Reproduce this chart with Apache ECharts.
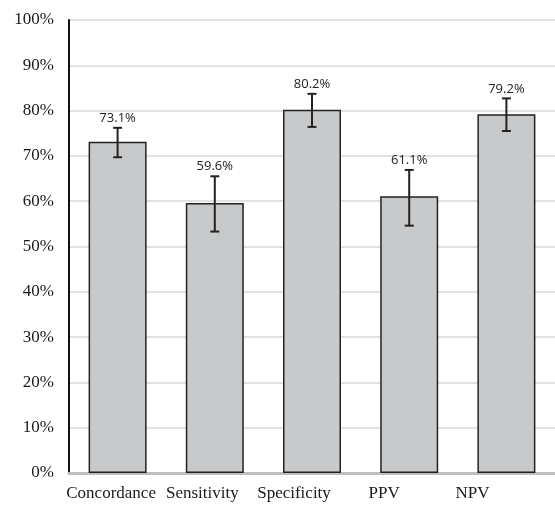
<!DOCTYPE html>
<html><head><meta charset="utf-8">
<script src="https://cdn.jsdelivr.net/npm/echarts@6/dist/echarts.min.js"></script>
<style>html,body{margin:0;padding:0;background:#fff}#c{width:555px;height:505px}</style>
</head><body><div id="c"></div>
<script>
const categories = ['Concordance', 'Sensitivity', 'Specificity', 'PPV', 'NPV'];
const values = [73.1, 59.6, 80.2, 61.1, 79.2];
const errLow = [69.7, 53.3, 76.4, 54.6, 75.5];
const errHigh = [76.2, 65.5, 83.7, 66.9, 82.7];
const yTicks = [0, 10, 20, 30, 40, 50, 60, 70, 80, 90, 100];

const labelShift = [13, 25, 36, 50, 68];
const rich = {};
labelShift.forEach((s, i) => {
  rich['c' + i] = { fontFamily: 'Liberation Serif', fontSize: 17, color: '#1a1a1a', padding: [0, s, 0, 0] };
});

const chart = echarts.init(document.getElementById('c'));
chart.setOption({
  animation: false,
  grid: { left: 69, top: 20, width: 490, bottom: 32 },
  xAxis: {
    type: 'category', data: categories,
    axisLine: { lineStyle: { color: '#bfbfbf', width: 3 } },
    axisTick: { show: false },
    axisLabel: { interval: 0, fontFamily: 'Liberation Serif', fontSize: 17, color: '#1a1a1a', margin: 12,
      formatter: (v, i) => '{c' + i + '|' + v + '}', rich }
  },
  yAxis: {
    type: 'value', min: 0, max: 100, interval: 10,
    axisLine: { show: true, lineStyle: { color: '#111', width: 2 } },
    axisTick: { show: false },
    splitLine: { lineStyle: { color: '#d9d9d9', width: 1.5 } },
    axisLabel: { fontFamily: 'Liberation Serif', fontSize: 17, color: '#1a1a1a', margin: 15,
      formatter: v => yTicks.includes(v) ? v + '%' : '' }
  },
  series: [
    {
      type: 'bar', data: values, barWidth: 58,
      itemStyle: { color: '#c8c9cb', borderColor: '#222', borderWidth: 1.5 }
    },
    {
      type: 'custom',
      data: categories.map((c, i) => [i, errLow[i], errHigh[i], values[i]]),
      renderItem: (params, api) => {
        const x = api.value(0);
        const lo = api.coord([x, api.value(1)]);
        const hi = api.coord([x, api.value(2)]);
        const cap = 4.5;
        const style = { stroke: '#222', lineWidth: 2 };
        return {
          type: 'group',
          children: [
            { type: 'line', shape: { x1: hi[0], y1: hi[1], x2: lo[0], y2: lo[1] }, style },
            { type: 'line', shape: { x1: hi[0] - cap, y1: hi[1], x2: hi[0] + cap, y2: hi[1] }, style },
            { type: 'line', shape: { x1: lo[0] - cap, y1: lo[1], x2: lo[0] + cap, y2: lo[1] }, style },
            { type: 'text', style: { text: api.value(3).toFixed(1) + '%', x: hi[0], y: hi[1] - 3,
                align: 'center', verticalAlign: 'bottom', fill: '#222',
                font: '13px "Open Sans"' } }
          ]
        };
      },
      z: 5
    }
  ]
});
</script></body></html>
